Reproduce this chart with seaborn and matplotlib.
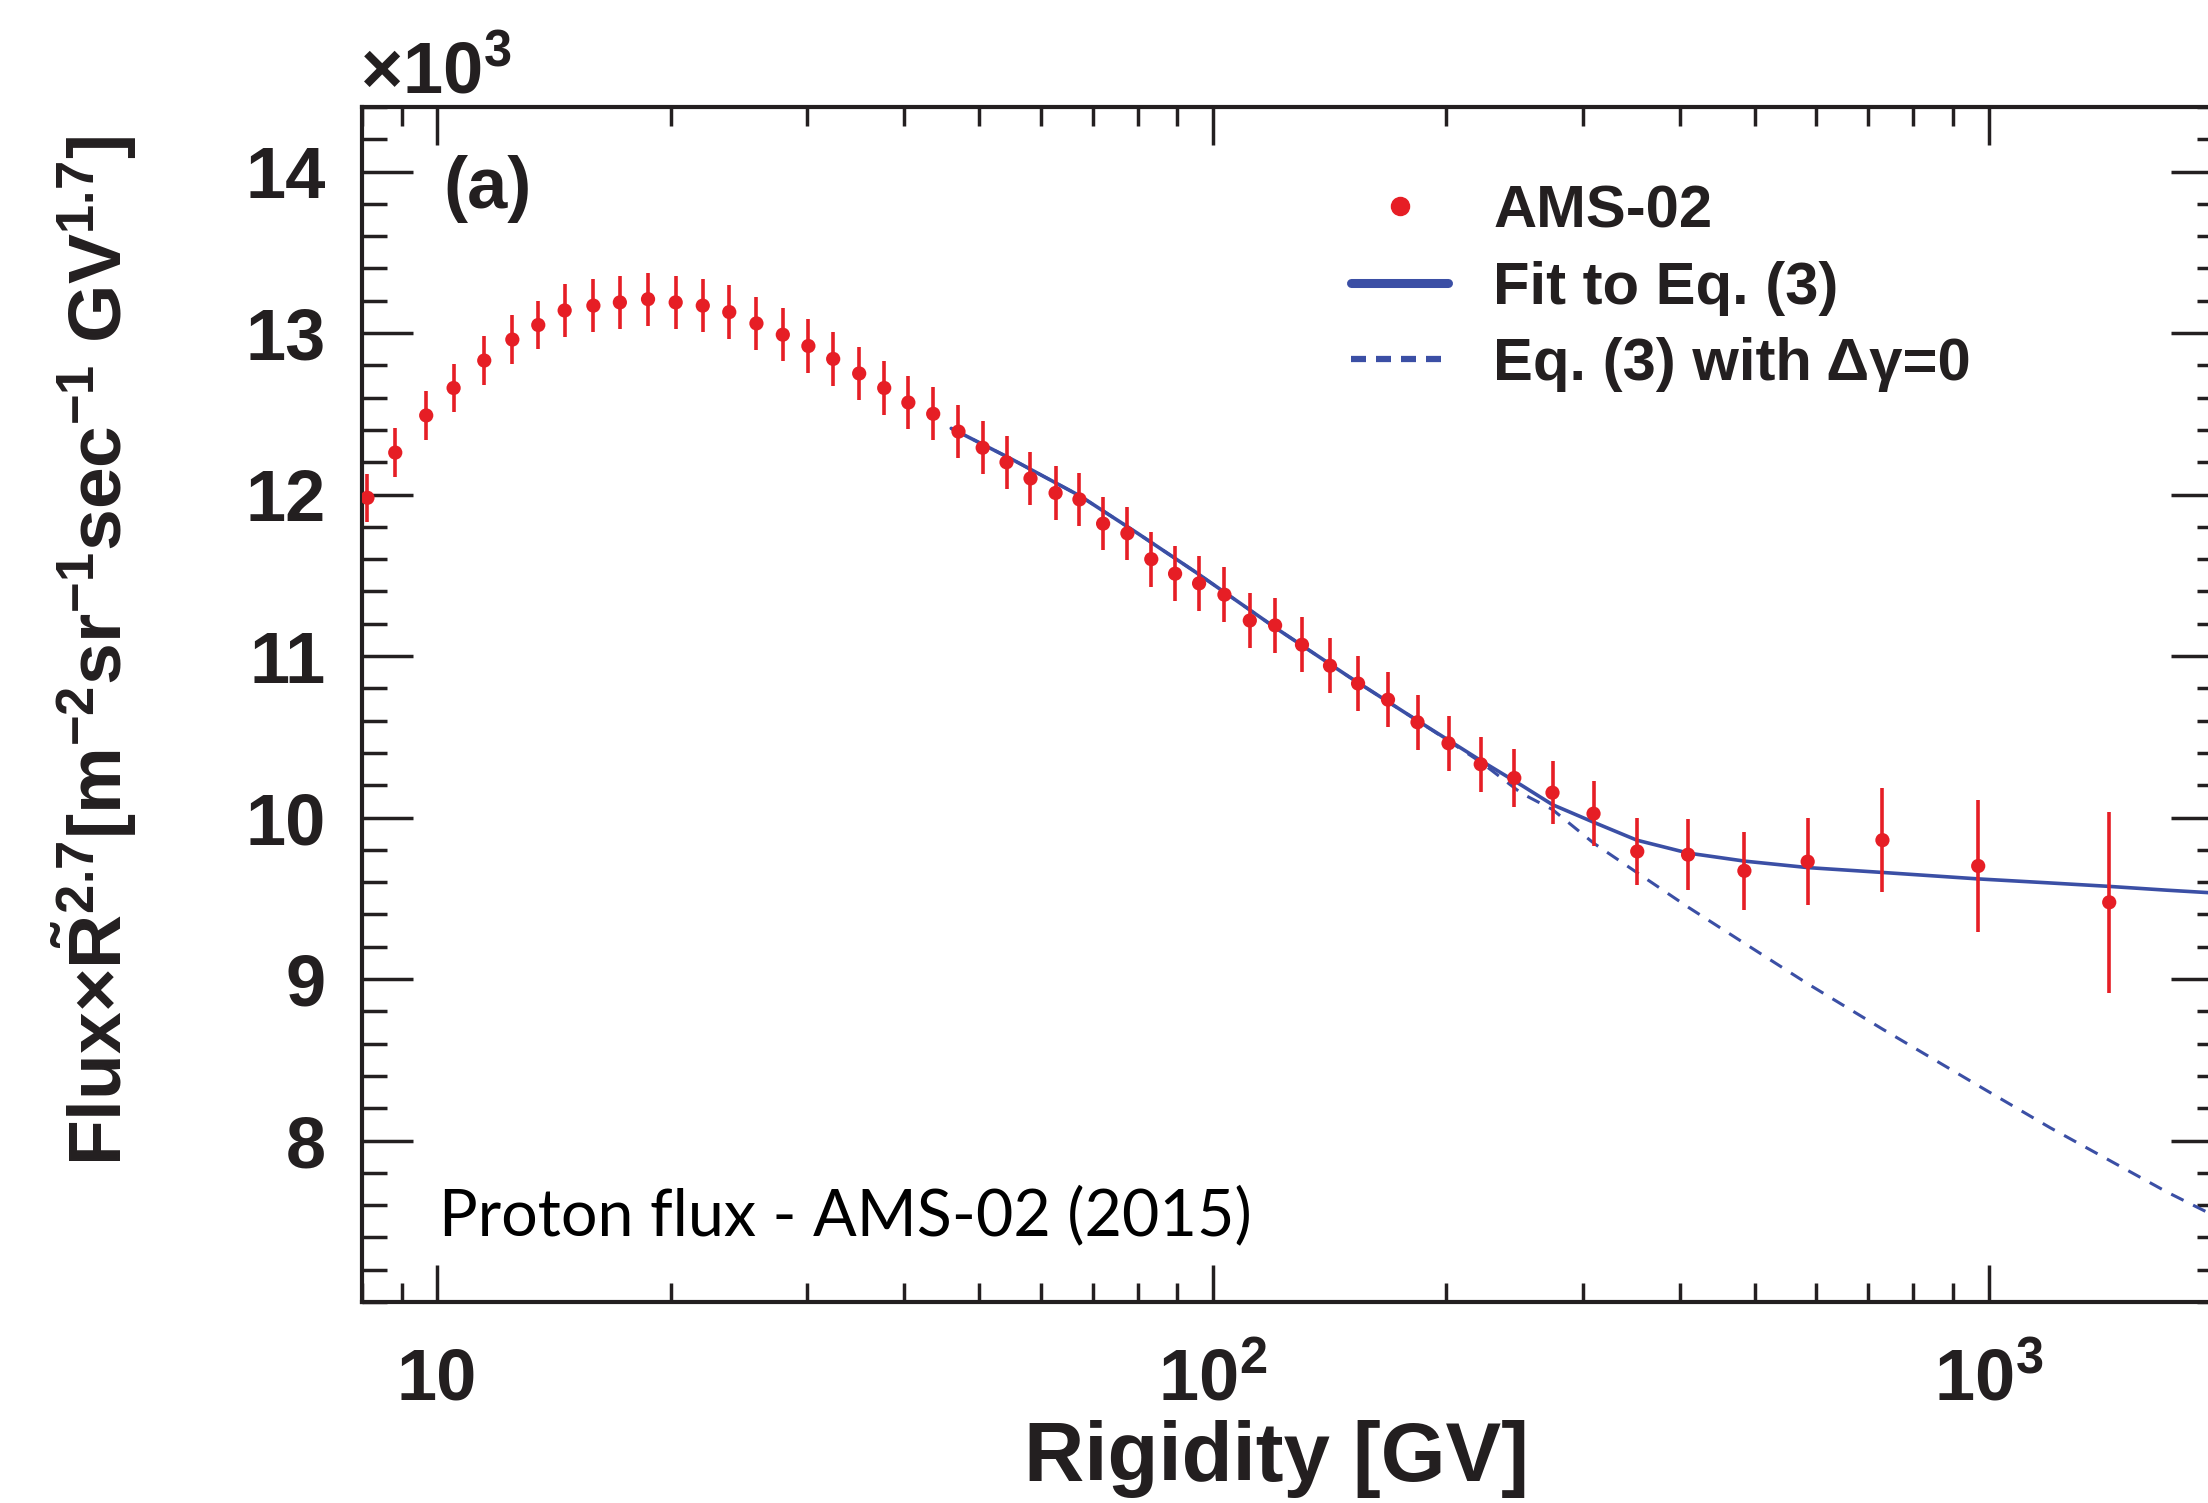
import numpy as np
import pandas as pd
import matplotlib
matplotlib.use("Agg")
import matplotlib.pyplot as plt
import matplotlib.ticker as mticker
from matplotlib.lines import Line2D
import seaborn as sns

# ---------------- data ----------------
rigidity = [8.13, 8.83, 9.68, 10.5, 11.5, 12.5, 13.5, 14.6, 15.9, 17.2,
            18.7, 20.3, 22.0, 23.8, 25.8, 27.9, 30.1, 32.4, 35.0, 37.7,
            40.5, 43.6, 47.0, 50.5, 54.2, 58.2, 62.7, 67.3, 72.2, 77.6,
            83.3, 89.4, 96.0, 103.5, 111.6, 120.3, 130.3, 141.6, 153.9, 168.2,
            183.6, 201.3, 221.5, 244.7, 274.1, 309.6, 352.5, 409.9, 484.5, 584.6,
            729.9, 969.9, 1431.0]
flux = [11.98, 12.26, 12.49, 12.66, 12.83, 12.96, 13.05, 13.14, 13.17, 13.19,
        13.21, 13.19, 13.17, 13.13, 13.06, 12.99, 12.92, 12.84, 12.75, 12.66,
        12.57, 12.50, 12.39, 12.29, 12.20, 12.10, 12.01, 11.97, 11.82, 11.76,
        11.60, 11.51, 11.45, 11.38, 11.22, 11.19, 11.07, 10.94, 10.83, 10.73,
        10.59, 10.46, 10.33, 10.245, 10.154, 10.024, 9.79, 9.77, 9.67, 9.727,
        9.86, 9.70, 9.475]
flux_err = [0.15, 0.15, 0.15, 0.15, 0.15, 0.15, 0.15, 0.165, 0.165, 0.165,
            0.165, 0.165, 0.165, 0.165, 0.165, 0.165, 0.165, 0.165, 0.165, 0.165,
            0.165, 0.165, 0.165, 0.165, 0.165, 0.165, 0.165, 0.165, 0.165, 0.165,
            0.17, 0.17, 0.17, 0.17, 0.17, 0.17, 0.17, 0.17, 0.17, 0.17,
            0.17, 0.17, 0.17, 0.18, 0.196, 0.20, 0.21, 0.22, 0.24, 0.27,
            0.32, 0.41, 0.56]

fit_R = [46, 55, 67.5, 80, 95, 120, 150, 185, 222, 250,
         274, 310, 352, 410, 485, 585, 730, 970, 1200, 1416,
         1700, 2000]
fit_break = [12.41, 12.22, 11.99, 11.76, 11.52, 11.18, 10.87, 10.59, 10.35, 10.20,
             10.08, 9.97, 9.86, 9.78, 9.73, 9.69, 9.66, 9.62, 9.595, 9.575,
             9.55, 9.53]
fit_nobreak = [12.41, 12.22, 11.99, 11.76, 11.52, 11.18, 10.87, 10.59, 10.34, 10.15,
               10.05, 9.84, 9.66, 9.445, 9.22, 8.97, 8.69, 8.34, 8.08, 7.89,
               7.68, 7.51]

x_major = [10, 100, 1000]
x_major_labels = ["10", r"$10^{2}$", r"$10^{3}$"]
y_major = [8, 9, 10, 11, 12, 13, 14]
y_major_labels = ["8", "9", "10", "11", "12", "13", "14"]

legend_labels = ["AMS-02", "Fit to Eq. (3)", "Eq. (3) with Δγ=0"]
xlabel = "Rigidity [GV]"
ylabel = r"Flux×$\tilde{\mathrm{R}}^{2.7}$[m$^{-2}$sr$^{-1}$sec$^{-1}$ GV$^{1.7}$]"
panel_tag = "(a)"
note = "Proton flux - AMS-02 (2015)"
multiplier = r"×$10^{3}$"

# ---------------- style ----------------
sns.set_theme(style="ticks")
plt.rcParams["font.family"] = ["Liberation Sans", "DejaVu Sans"]
plt.rcParams["font.weight"] = "bold"
plt.rcParams["mathtext.fontset"] = "custom"
plt.rcParams["mathtext.rm"] = "Liberation Sans:bold"
plt.rcParams["mathtext.it"] = "Liberation Sans:bold"
plt.rcParams["mathtext.bf"] = "Liberation Sans:bold"
plt.rcParams["mathtext.sf"] = "Liberation Sans:bold"
plt.rcParams["mathtext.default"] = "rm"
plt.rcParams["axes.unicode_minus"] = True

RED = "#E61E25"
BLUE = "#3B4FA5"
INK = "#231F20"

W, H = 2208, 1503
fig = plt.figure(figsize=(W / 100, H / 100), dpi=100)
fig.patch.set_facecolor("white")
ax_l, ax_r, ax_t, ax_b = 362, 2222, 107, 1302
ax = fig.add_axes([ax_l / W, 1 - ax_b / H, (ax_r - ax_l) / W, (ax_b - ax_t) / H])
ax.set_facecolor("white")

df = pd.DataFrame({"R": rigidity, "F": flux, "E": flux_err})
fit = pd.DataFrame({"R": fit_R, "full": fit_break, "nobreak": fit_nobreak})

# error bars
ax.errorbar(df["R"], df["F"], yerr=df["E"], fmt="none", ecolor=RED,
            elinewidth=2.6, capsize=0, zorder=3)
# points
sns.scatterplot(data=df, x="R", y="F", ax=ax, color=RED, s=105,
                edgecolor="none", linewidth=0, zorder=4, legend=False)
# fit lines
sns.lineplot(data=fit, x="R", y="nobreak", ax=ax, color=BLUE, lw=2.2,
             linestyle=(0, (4.5, 3.5)), zorder=2, legend=False)
sns.lineplot(data=fit, x="R", y="full", ax=ax, color=BLUE, lw=2.6,
             zorder=2.5, legend=False)

ax.set_xscale("log")
ax.set_xlim(8, 2000)
ax.set_ylim(7.0, 14.4)

ax.set_xticks(x_major, labels=x_major_labels)
ax.xaxis.set_minor_locator(mticker.LogLocator(base=10, subs=np.arange(2, 10), numticks=20))
ax.xaxis.set_minor_formatter(mticker.NullFormatter())
ax.set_yticks(y_major, labels=y_major_labels)
ax.yaxis.set_minor_locator(mticker.MultipleLocator(0.2))

for s in ax.spines.values():
    s.set_linewidth(3.0)
    s.set_color(INK)
ax.spines["right"].set_visible(False)

ax.tick_params(axis="both", which="both", direction="in", top=True, right=True,
               color=INK, width=2.5)
ax.tick_params(axis="y", which="major", length=37, labelsize=52, pad=26, labelcolor=INK)
ax.tick_params(axis="y", which="minor", length=18)
ax.tick_params(axis="x", which="major", length=27, labelsize=52, pad=70, labelcolor=INK)
ax.tick_params(axis="x", which="minor", length=14)
for lab in ax.get_xticklabels():
    lab.set_va("baseline")
    lab.set_fontweight("bold")
for lab in ax.get_yticklabels():
    lab.set_fontweight("bold")

ax.set_xlabel(xlabel, fontsize=60, fontweight="bold", color=INK)
ax.xaxis.set_label_coords((1276 - ax_l) / (ax_r - ax_l), (ax_b - 1420) / (ax_b - ax_t))
ax.set_ylabel(ylabel, fontsize=54, fontweight="bold", color=INK)
ax.yaxis.set_label_coords((139 - ax_l) / (ax_r - ax_l), (ax_b - 651) / (ax_b - ax_t))

def ax_xy(px, py):
    return (px - ax_l) / (ax_r - ax_l), (ax_b - py) / (ax_b - ax_t)

ax.text(*ax_xy(443, 208), panel_tag, fontsize=52, fontweight="bold", color=INK,
        ha="left", va="baseline", transform=ax.transAxes)
ax.text(*ax_xy(360, 93), multiplier, fontsize=52, fontweight="bold", color=INK,
        ha="left", va="baseline", transform=ax.transAxes, clip_on=False)
ax.text(*ax_xy(439, 1235), note, fontsize=46.5, fontweight="normal", color="black",
        family=["Lato", "Open Sans", "DejaVu Sans"],
        ha="left", va="baseline", transform=ax.transAxes)

handles = [
    Line2D([], [], color=RED, marker="o", markersize=13, linestyle="none"),
    Line2D([], [], color=BLUE, lw=6.5),
    Line2D([], [], color=BLUE, lw=4.5, linestyle=(0, (2.4, 1.6))),
]
leg = fig.legend(handles, legend_labels, loc="upper left",
                 bbox_to_anchor=(1351 / W, 1 - 184 / H), frameon=False,
                 prop={"family": ["Liberation Sans", "DejaVu Sans"], "weight": "bold", "size": 43},
                 handlelength=1.63, handletextpad=0.75, labelspacing=0.36,
                 borderpad=0, borderaxespad=0, labelcolor=INK)

fig.savefig("out.png", dpi=100, facecolor="white")
